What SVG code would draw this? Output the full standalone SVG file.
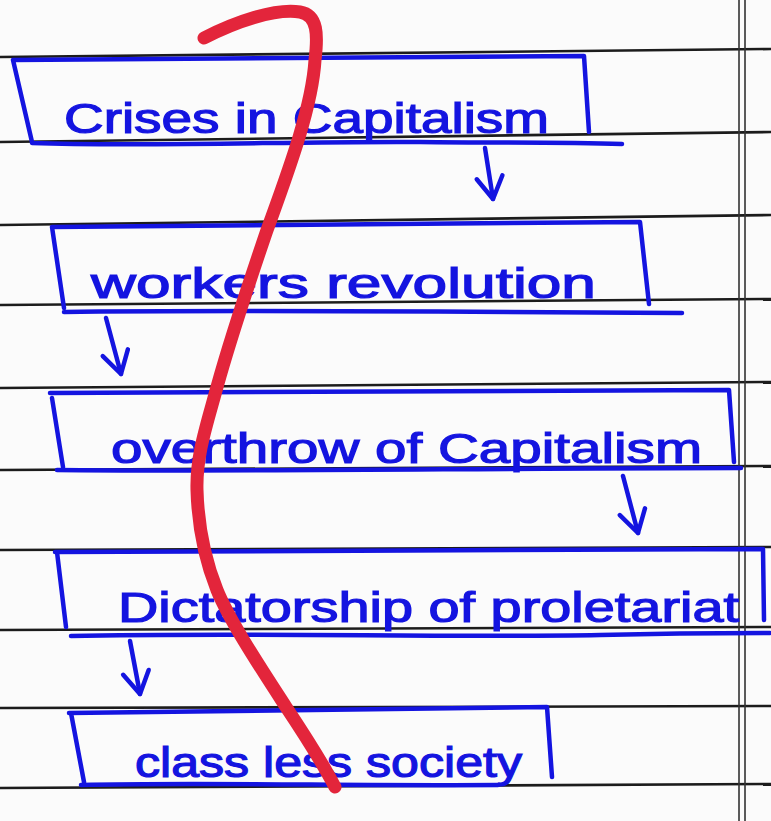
<svg xmlns="http://www.w3.org/2000/svg" width="771" height="821" viewBox="0 0 771 821">
<style>
.rule{stroke:#1c1c1c;stroke-width:2.6;fill:none}
.ink{stroke:#1414e0;stroke-width:4.5;fill:none;stroke-linecap:round;stroke-linejoin:round}
.lbl{font-family:"Liberation Sans","DejaVu Sans",sans-serif;font-size:42px;fill:#1414e0;stroke:#1414e0;stroke-width:1.2}
.red{stroke:#e3253b;stroke-width:13;fill:none;stroke-linecap:round;stroke-linejoin:round}
</style>
<defs>
<marker id="vhead" markerUnits="userSpaceOnUse" markerWidth="40" markerHeight="40" viewBox="-30 -20 40 40" refX="0" refY="0" orient="auto">
<path d="M-22,-13 L0,0 L-22,13" fill="none" stroke="#1414e0" stroke-width="4.5" stroke-linecap="round" stroke-linejoin="round"/>
</marker>
</defs>
<rect width="771" height="821" fill="#fbfbfb"/>
<g id="paper">
<path class="rule" d="M0,57 L771,49"/>
<path class="rule" d="M0,142 L771,132"/>
<path class="rule" d="M0,225 L771,215"/>
<path class="rule" d="M0,305 L771,299"/>
<path class="rule" d="M0,388 L771,382"/>
<path class="rule" d="M0,470 L771,466"/>
<path class="rule" d="M0,550 L771,547"/>
<path class="rule" d="M0,630 L771,627"/>
<path class="rule" d="M0,708 L771,706"/>
<path class="rule" d="M0,788 L771,784"/>
<path stroke="#333" stroke-width="1.6" d="M739,0 L739,821 M745,0 L745,821"/>
</g>
<g id="node1">
<path class="ink" d="M13,60 L584,56 L589,132 M13,60 L32,142 M32,143 C150,147 300,141 420,142 C500,143 560,142 622,144"/>
<text class="lbl" x="64" y="133" textLength="485" lengthAdjust="spacingAndGlyphs">Crises in Capitalism</text>
</g>
<g id="node2">
<path class="ink" d="M52,227 L640,222 L649,304 M52,227 L64,308 M64,312 C200,310 400,311 682,313"/>
<text class="lbl" x="91" y="298" textLength="505" lengthAdjust="spacingAndGlyphs">workers revolution</text>
</g>
<g id="node3">
<path class="ink" d="M50,393 L729,390 L734,462 M52,398 L63,467 M57,470 C250,472 500,468 741,468"/>
<text class="lbl" x="111" y="463" textLength="591" lengthAdjust="spacingAndGlyphs">overthrow of Capitalism</text>
</g>
<g id="node4">
<path class="ink" d="M55,552 L763,549 L764,620 M57,552 L66,627 M71,636 C250,632 450,638 600,635 C680,633 740,633 770,633"/>
<text class="lbl" x="118" y="622" textLength="621" lengthAdjust="spacingAndGlyphs">Dictatorship of proletariat</text>
</g>
<g id="node5">
<path class="ink" d="M69,713 L547,707 L552,777 M71,713 L84,782 M81,785 C200,782 350,786 498,785"/>
<text class="lbl" x="135" y="777" textLength="387" lengthAdjust="spacingAndGlyphs">class less society</text>
</g>
<g id="connectors">
<path class="ink" marker-end="url(#vhead)" d="M485,148 L493,199"/>
<path class="ink" marker-end="url(#vhead)" d="M106,318 L121,374"/>
<path class="ink" marker-end="url(#vhead)" d="M623,476 L638,533"/>
<path class="ink" marker-end="url(#vhead)" d="M130,641 L140,694"/>
</g>
<path class="red" d="M204,38 C235,22 275,8 300,12 C318,15 318,35 315,60 C312,110 285,180 266,233 C250,280 230,340 217,387 C207,424 196,455 197,490 C198,525 205,560 217,590 C229,620 262,670 286,707 C300,728 322,762 335,787"/>
</svg>
